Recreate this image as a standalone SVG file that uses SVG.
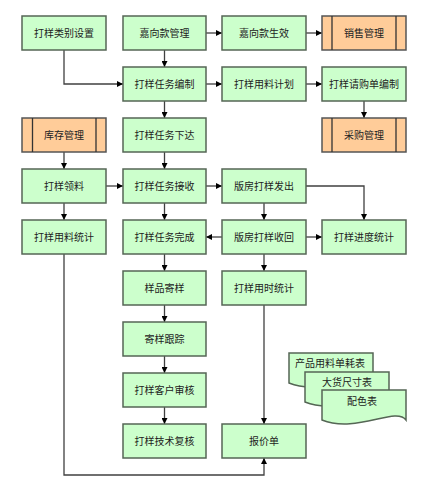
<svg xmlns="http://www.w3.org/2000/svg" width="446" height="496" viewBox="0 0 446 496">
<style>
.b{fill:#ccffcc;stroke:#556655;stroke-width:1.5}
.o{fill:#ffcc99;stroke:#555555;stroke-width:1.5}
.v{stroke:#333;stroke-width:1.3;fill:none}
.t{font-family:"Noto Sans CJK SC","Noto Sans CJK TC",sans-serif;font-size:10px;fill:#222;text-anchor:middle}
.c{fill:none;stroke:#404040;stroke-width:1.3;marker-end:url(#a)}
</style>
<defs>
<marker id="a" viewBox="0 0 10 10" refX="10" refY="5" markerWidth="6" markerHeight="6" markerUnits="userSpaceOnUse" orient="auto">
<path d="M0,0 L10,5 L0,10 z" fill="#000"/>
</marker>
</defs>
<rect width="446" height="496" fill="#fff"/>
<g id="connectors">
<path class="c" d="M64,50 V84 H123"/>
<path class="c" d="M206,33 H222"/>
<path class="c" d="M306,33 H322"/>
<path class="c" d="M164.5,50 V67"/>
<path class="c" d="M206,84 H222"/>
<path class="c" d="M306,84 H322"/>
<path class="c" d="M364,101 V118"/>
<path class="c" d="M164.5,101 V118"/>
<path class="c" d="M164.5,152 V169"/>
<path class="c" d="M64,152 V169"/>
<path class="c" d="M106,186 H123"/>
<path class="c" d="M64,203 V220"/>
<path class="c" d="M206,186 H222"/>
<path class="c" d="M164.5,203 V220"/>
<path class="c" d="M306,186 H364 V220"/>
<path class="c" d="M264,203 V220"/>
<path class="c" d="M306,237 H322"/>
<path class="c" d="M222,237 H206"/>
<path class="c" d="M164.5,254 V271"/>
<path class="c" d="M164.5,305 V322"/>
<path class="c" d="M164.5,356 V373"/>
<path class="c" d="M164.5,407 V424"/>
<path class="c" d="M264,254 V271"/>
<path class="c" d="M264,305 V424"/>
<path class="c" d="M64,254 V475 H264 V458"/>
</g>
<g id="n1"><rect class="b" x="22" y="16" width="84" height="34"/><text class="t" x="64" y="36.5">打样类别设置</text></g>
<g id="n2"><rect class="b" x="123" y="16" width="83" height="34"/><text class="t" x="164.5" y="36.5">嘉向款管理</text></g>
<g id="n3"><rect class="b" x="222" y="16" width="84" height="34"/><text class="t" x="264" y="36.5">嘉向款生效</text></g>
<g id="n4"><rect class="o" x="322" y="16" width="84" height="34"/><path class="v" d="M332,16 V50 M396,16 V50"/><text class="t" x="364" y="36.5">销售管理</text></g>
<g id="n5"><rect class="b" x="123" y="67" width="83" height="34"/><text class="t" x="164.5" y="87.5">打样任务编制</text></g>
<g id="n6"><rect class="b" x="222" y="67" width="84" height="34"/><text class="t" x="264" y="87.5">打样用料计划</text></g>
<g id="n7"><rect class="b" x="322" y="67" width="84" height="34"/><text class="t" x="364" y="87.5">打样请购单编制</text></g>
<g id="n8"><rect class="o" x="22" y="118" width="84" height="34"/><path class="v" d="M32.5,118 V152 M96,118 V152"/><text class="t" x="64" y="138.5">库存管理</text></g>
<g id="n9"><rect class="b" x="123" y="118" width="83" height="34"/><text class="t" x="164.5" y="138.5">打样任务下达</text></g>
<g id="n10"><rect class="o" x="322" y="118" width="84" height="34"/><path class="v" d="M332,118 V152 M396,118 V152"/><text class="t" x="364" y="138.5">采购管理</text></g>
<g id="n11"><rect class="b" x="22" y="169" width="84" height="34"/><text class="t" x="64" y="189.5">打样领料</text></g>
<g id="n12"><rect class="b" x="123" y="169" width="83" height="34"/><text class="t" x="164.5" y="189.5">打样任务接收</text></g>
<g id="n13"><rect class="b" x="222" y="169" width="84" height="34"/><text class="t" x="264" y="189.5">版房打样发出</text></g>
<g id="n14"><rect class="b" x="22" y="220" width="84" height="34"/><text class="t" x="64" y="240.5">打样用料统计</text></g>
<g id="n15"><rect class="b" x="123" y="220" width="83" height="34"/><text class="t" x="164.5" y="240.5">打样任务完成</text></g>
<g id="n16"><rect class="b" x="222" y="220" width="84" height="34"/><text class="t" x="264" y="240.5">版房打样收回</text></g>
<g id="n17"><rect class="b" x="322" y="220" width="84" height="34"/><text class="t" x="364" y="240.5">打样进度统计</text></g>
<g id="n18"><rect class="b" x="123" y="271" width="83" height="34"/><text class="t" x="164.5" y="291.5">样品寄样</text></g>
<g id="n19"><rect class="b" x="222" y="271" width="84" height="34"/><text class="t" x="264" y="291.5">打样用时统计</text></g>
<g id="n20"><rect class="b" x="123" y="322" width="83" height="34"/><text class="t" x="164.5" y="342.5">寄样跟踪</text></g>
<g id="n21"><rect class="b" x="123" y="373" width="83" height="34"/><text class="t" x="164.5" y="393.5">打样客户审核</text></g>
<g id="n22"><rect class="b" x="123" y="424" width="83" height="34"/><text class="t" x="164.5" y="444.5">打样技术复核</text></g>
<g id="n23"><rect class="b" x="222" y="424" width="84" height="34"/><text class="t" x="264" y="444.5">报价单</text></g>
<g id="doc1"><path class="b" d="M289,353 H373 V383 C363,369 323,397 289,383 Z"/><text class="t" x="330" y="367">产品用料单耗表</text></g>
<g id="doc2"><path class="b" d="M305,372 H389 V402 C379,388 339,416 305,402 Z"/><text class="t" x="347" y="386">大货尺寸表</text></g>
<g id="doc3"><path class="b" d="M322,390 H406 V420 C396,406 356,434 322,420 Z"/><text class="t" x="362" y="405">配色表</text></g>
</svg>
